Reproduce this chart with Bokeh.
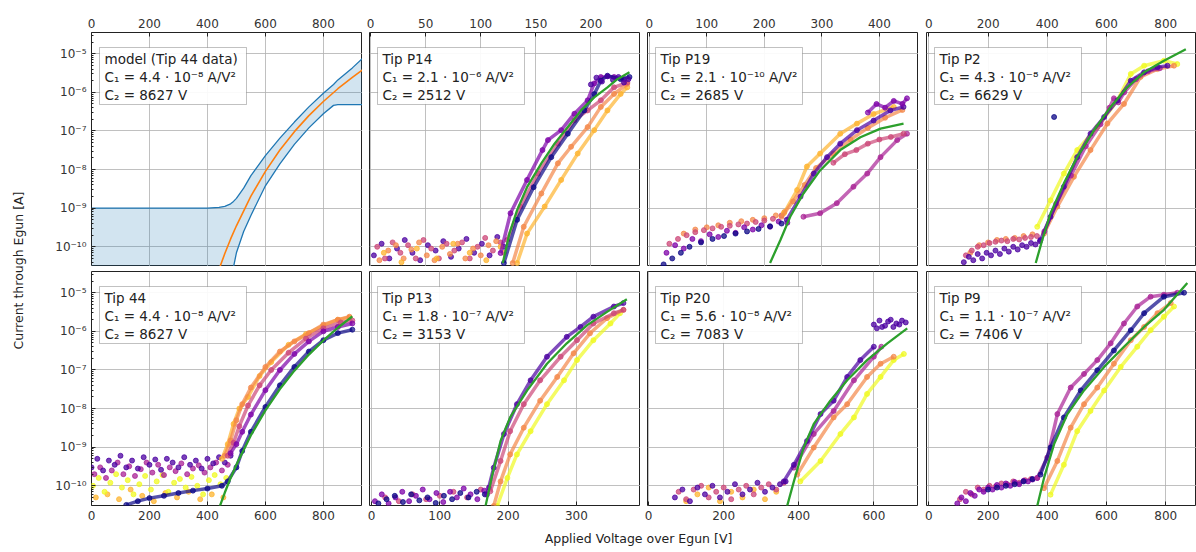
from bokeh.plotting import figure
from bokeh.layouts import row, column
from bokeh.models import (Range1d, FixedTicker, CustomJSTickFormatter, Label,
                          BoxAnnotation)
from bokeh.embed import file_html
from bokeh.resources import INLINE

# ------------------------------------------------------------------ data
# --- model panel (Tip 44 data) ---
model_v = [0, 100, 200, 300, 400, 440, 460, 480, 490, 500, 525, 550, 600, 650,
           700, 750, 800, 835, 850, 900, 935]
model_upper = [1e-9, 1e-9, 1e-9, 1e-9, 1.01e-9, 1.05e-9, 1.12e-9, 1.3e-9, 1.5e-9,
               1.8e-9, 3.3e-9, 7e-9, 2.3e-8, 6.5e-8, 1.7e-7, 4.2e-7, 9.5e-7,
               1.6e-6, 2.1e-6, 4.3e-6, 7.6e-6]
model_lower = [1e-12, 1e-12, 1e-12, 1e-12, 1e-12, 1e-12, 1e-12, 1e-12, 3e-11,
               7e-11, 2.5e-10, 6.5e-10, 3.8e-9, 1.4e-8, 4.5e-8, 1.2e-7, 2.8e-7,
               4.6e-7, 4.8e-7, 4.8e-7, 4.8e-7]
model_center_v = [420, 440, 460, 480, 500, 550, 600, 650, 700, 750, 800, 850, 900, 935]
model_center = [1e-11, 2.6e-11, 6.7e-11, 1.6e-10, 3.5e-10, 2.05e-9, 9.0e-9, 3.2e-8,
                9.6e-8, 2.5e-7, 5.8e-7, 1.24e-6, 2.45e-6, 3.8e-6]

# --- Tip P14 ---
p14_floor_a_v = [3, 10, 17, 24, 31, 38, 45, 52, 59, 66, 73, 80, 87, 94, 101, 108, 115, 121]
p14_floor_a_i = [6e-11, 1.2e-10, 5e-11, 9e-11, 1.5e-10, 7e-11, 4.5e-11, 1.1e-10, 8e-11,
                 1.4e-10, 5.5e-11, 9e-11, 1.6e-10, 7e-11, 1.2e-10, 6e-11, 1.8e-10, 1e-10]
p14_floor_b_v = [6, 13, 20, 27, 34, 41, 48, 55, 62, 69, 76, 83, 90, 97, 104, 111, 118]
p14_floor_b_i = [1e-10, 5e-11, 1.3e-10, 7e-11, 1.1e-10, 5e-11, 1.5e-10, 9e-11, 5e-11,
                 1.2e-10, 8e-11, 1.3e-10, 5e-11, 1e-10, 1.7e-10, 8e-11, 1.3e-10]
p14_floor_c_v = [8, 16, 23, 30, 37, 44, 51, 58, 65, 72, 79, 86, 93, 100, 107, 114, 121]
p14_floor_c_i = [4.5e-11, 8e-11, 1.1e-10, 5e-11, 8.5e-11, 1.3e-10, 6e-11, 4.5e-11, 1e-10,
                 6.5e-11, 1.2e-10, 5e-11, 9e-11, 6e-11, 1.1e-10, 1.4e-10, 7e-11]
p14_floor_d_v = [12, 28, 42, 60, 75, 90, 105, 118]
p14_floor_d_i = [7e-11, 4e-11, 9e-11, 5e-11, 1.2e-10, 7e-11, 4.5e-11, 1e-10]
p14_navy_v = [121, 133, 148, 164, 179, 194, 203, 209, 215, 227, 235]
p14_navy_i = [3.8e-11, 5e-10, 3.5e-9, 2.1e-8, 8.5e-8, 3.4e-7, 9e-7, 2e-6, 2.7e-6, 2.2e-6, 2.5e-6]
p14_purple_v = [118, 127, 142, 156, 161, 173, 185, 197, 203, 209, 221, 230]
p14_purple_i = [6.9e-11, 7.4e-10, 5.4e-9, 3.2e-8, 5.8e-8, 1.05e-7, 2.8e-7, 6.2e-7,
                1.7e-6, 2.5e-6, 2.5e-6, 2.2e-6]
p14_magenta_v = [124, 136, 152, 170, 185, 197, 209, 221, 233]
p14_magenta_i = [1.5e-10, 1.1e-9, 7.9e-9, 4.7e-8, 1.9e-7, 3.4e-7, 6.2e-7, 1.35e-6, 1.8e-6]
p14_orange_v = [129, 139, 155, 170, 182, 197, 209, 221, 233]
p14_orange_i = [3.8e-11, 3.3e-10, 2.4e-9, 1.45e-8, 3.9e-8, 1.26e-7, 4.2e-7, 9.1e-7, 1.66e-6]
p14_yellow_v = [133, 142, 158, 173, 188, 203, 215, 227, 233]
p14_yellow_i = [3.8e-11, 2.2e-10, 1.1e-9, 5.4e-9, 2.6e-8, 1.05e-7, 3.4e-7, 9.1e-7, 1.35e-6]
p14_top_v = [200, 205, 210, 215, 220, 225, 230, 234]
p14_top_i = [1.6e-6, 2.4e-6, 1.9e-6, 2.6e-6, 2.1e-6, 2.5e-6, 1.8e-6, 2.2e-6]
p14_fit_v = [120, 126, 133, 142, 155, 167, 179, 191, 203, 215, 224, 235]
p14_fit_i = [3.8e-11, 2.2e-10, 8.9e-10, 3.5e-9, 1.45e-8, 4.7e-8, 1.26e-7, 3.4e-7,
             7.4e-7, 1.35e-6, 2.2e-6, 3.3e-6]

# --- Tip P19 ---
p19_floor_a_v = [25, 40, 55, 70, 90, 110, 130, 150, 170, 190, 210, 230]
p19_floor_a_i = [3.5e-11, 5e-11, 7e-11, 1e-10, 1.3e-10, 1.6e-10, 1.9e-10, 2.2e-10,
                 2.5e-10, 2.9e-10, 3.4e-10, 4e-10]
p19_floor_b_v = [30, 45, 60, 75, 90, 105, 120, 135, 150, 165, 180, 195, 210, 225, 240]
p19_floor_b_i = [7e-11, 1.1e-10, 9e-11, 1.6e-10, 1.4e-10, 2.1e-10, 1.8e-10, 2.6e-10,
                 2.3e-10, 3.2e-10, 2.8e-10, 3.6e-10, 3.3e-10, 4.5e-10, 4.2e-10]
p19_floor_c_v = [35, 50, 65, 80, 95, 110, 125, 140, 155, 170, 185, 200, 215, 230]
p19_floor_c_i = [1.2e-10, 1.6e-10, 2e-10, 2.4e-10, 2.7e-10, 3e-10, 3.3e-10, 3.5e-10,
                 3.8e-10, 4e-10, 4.4e-10, 4.8e-10, 5.3e-10, 6.5e-10]
p19_floor_d_v = [60, 80, 100, 120, 140, 160, 180, 200, 220, 235]
p19_floor_d_i = [2.2e-10, 2.8e-10, 3.2e-10, 3.6e-10, 4.2e-10, 4.6e-10, 5e-10, 5.5e-10,
                 6.5e-10, 8e-10]
p19_navy_v = [239, 263, 286, 309, 332, 361, 390, 419, 442]
p19_navy_i = [5e-10, 2e-9, 7.9e-9, 2.1e-8, 4.7e-8, 1.05e-7, 1.86e-7, 3.4e-7, 4.2e-7]
p19_purple_v = [380, 395, 410, 425, 440, 448]
p19_purple_i = [3e-7, 5e-7, 4e-7, 6e-7, 5e-7, 7e-7]
p19_magenta_v = [268, 297, 326, 355, 379, 402, 431, 448]
p19_magenta_i = [6e-10, 7.4e-10, 1.35e-9, 3.6e-9, 7.9e-9, 2.1e-8, 5.8e-8, 8.5e-8]
p19_pink_v = [320, 340, 360, 380, 400, 420, 442]
p19_pink_i = [1.5e-8, 2.5e-8, 3.2e-8, 4.7e-8, 6e-8, 7e-8, 8.5e-8]
p19_orange_v = [230, 250, 270, 290, 320, 350, 380, 410, 440]
p19_orange_i = [6e-10, 1.5e-9, 4e-9, 1.1e-8, 2.6e-8, 6e-8, 1.2e-7, 2.2e-7, 3.5e-7]
p19_yellow_v = [234, 257, 274, 297, 332, 361, 390, 425]
p19_yellow_i = [7.4e-10, 2.95e-9, 1.2e-8, 2.6e-8, 8.5e-8, 1.55e-7, 2.75e-7, 4.2e-7]
p19_fit_v = [210, 228, 245, 268, 297, 332, 367, 402, 442]
p19_fit_i = [3.8e-11, 1.5e-10, 6e-10, 2.4e-9, 9.5e-9, 3.2e-8, 6.9e-8, 1.15e-7, 1.55e-7]

# --- Tip P2 ---
p2_floor_a_v = [118, 135, 150, 165, 180, 195, 210, 225, 240, 255, 270, 285, 300, 315,
                330, 345, 360, 375]
p2_floor_a_i = [4e-11, 5.5e-11, 4.5e-11, 6.5e-11, 5e-11, 7e-11, 6e-11, 8e-11, 6.5e-11,
                9e-11, 7.5e-11, 1e-10, 8.5e-11, 1.1e-10, 1e-10, 1.25e-10, 1.15e-10, 1.4e-10]
p2_floor_b_v = [125, 145, 165, 185, 205, 225, 245, 265, 285, 305, 325, 345, 365]
p2_floor_b_i = [6e-11, 8e-11, 1e-10, 1.1e-10, 1.25e-10, 1.35e-10, 1.45e-10, 1.4e-10,
                1.6e-10, 1.55e-10, 1.7e-10, 1.8e-10, 1.9e-10]
p2_floor_c_v = [140, 170, 200, 230, 260, 290, 320, 350]
p2_floor_c_i = [7e-11, 1.1e-10, 1.3e-10, 1.5e-10, 1.6e-10, 1.7e-10, 1.9e-10, 2.1e-10]
p2_navy_v = [377, 411, 456, 501, 546, 592, 637, 682, 727, 772, 806]
p2_navy_i = [1.5e-10, 6e-10, 3.6e-9, 2.1e-8, 8.5e-8, 2.3e-7, 6.2e-7, 2e-6, 3.3e-6, 4.5e-6, 4.9e-6]
p2_magenta_v = [390, 430, 480, 530, 580, 610, 625, 640, 660, 700, 740, 780]
p2_magenta_i = [2.5e-10, 1.3e-9, 7e-9, 4e-8, 1.5e-7, 4e-7, 7e-7, 5.5e-7, 1e-6, 2.2e-6,
                3.5e-6, 4.2e-6]
p2_orange_v = [389, 434, 490, 546, 603, 659, 715, 772, 828]
p2_orange_i = [2.2e-10, 1.1e-9, 6.5e-9, 3.2e-8, 1.55e-7, 5e-7, 2.5e-6, 4e-6, 4.9e-6]
p2_yellow_v = [366, 411, 456, 501, 569, 637, 682, 727, 794, 839]
p2_yellow_i = [3.3e-10, 1.6e-9, 7.9e-9, 3.2e-8, 1.26e-7, 6.2e-7, 3e-6, 4.9e-6, 6.6e-6, 5.4e-6]
p2_stray_v = [423]
p2_stray_i = [2.3e-7]
p2_fit_v = [361, 383, 411, 456, 501, 558, 614, 670, 727, 794, 868]
p2_fit_i = [3.8e-11, 1.5e-10, 7.4e-10, 4.4e-9, 2.1e-8, 1.05e-7, 4.2e-7, 1.35e-6,
            3.3e-6, 6.6e-6, 1.3e-5]

# --- Tip 44 ---
t44_floor_a_v = [0, 20, 40, 60, 80, 100, 120, 140, 160, 180, 200, 220, 240, 260, 280,
                 300, 320, 340, 360, 380, 400, 420, 440, 460, 480]
t44_floor_a_i = [3e-10, 5e-10, 2.5e-10, 4.5e-10, 3.5e-10, 6e-10, 3e-10, 4.5e-10, 2.8e-10,
                 5.5e-10, 3.5e-10, 4.8e-10, 2.6e-10, 5e-10, 4e-10, 3e-10, 5.5e-10,
                 3.5e-10, 4.5e-10, 2.8e-10, 5e-10, 3.8e-10, 5.5e-10, 4e-10, 6e-10]
t44_floor_b_v = [10, 30, 50, 70, 90, 110, 130, 150, 170, 190, 210, 230, 250, 270, 290,
                 310, 330, 350, 370, 390, 410, 430, 450, 470]
t44_floor_b_i = [2e-10, 3e-10, 1.6e-10, 2.5e-10, 4e-10, 2e-10, 3.2e-10, 1.8e-10, 2.7e-10,
                 4e-10, 2.2e-10, 3.5e-10, 1.9e-10, 3e-10, 2.4e-10, 3.8e-10, 2e-10,
                 2.8e-10, 3.4e-10, 2.2e-10, 3e-10, 4e-10, 2.5e-10, 3.5e-10]
t44_floor_c_v = [5, 25, 45, 65, 85, 105, 125, 145, 165, 185, 205, 225, 245, 265, 285,
                 305, 325, 345, 365, 385, 405, 425, 445, 465]
t44_floor_c_i = [1e-10, 1.6e-10, 7e-11, 1.2e-10, 2e-10, 9e-11, 1.4e-10, 6e-11, 1.1e-10,
                 1.8e-10, 8e-11, 1.3e-10, 1.9e-10, 7e-11, 1.2e-10, 1.5e-10, 9e-11,
                 1.7e-10, 1e-10, 6e-11, 1.4e-10, 1.9e-10, 1.1e-10, 1.6e-10]
t44_floor_d_v = [15, 55, 95, 135, 175, 215, 255, 295, 335, 375, 415, 455]
t44_floor_d_i = [5e-11, 6e-11, 4.5e-11, 8e-11, 5.5e-11, 4e-11, 6.5e-11, 5e-11, 7e-11,
                 4.5e-11, 6e-11, 5e-11]
t44_navy_v = [120, 160, 200, 250, 300, 350, 400, 450, 470, 500, 520, 550, 600, 650,
              700, 750, 800, 850, 900]
t44_navy_i = [3.2e-11, 4e-11, 4.8e-11, 5.5e-11, 6.5e-11, 7.5e-11, 8.5e-11, 1e-10,
              1.3e-10, 3e-10, 8e-10, 2.5e-9, 1.1e-8, 4e-8, 1.2e-7, 3e-7, 5.9e-7, 9e-7, 1.1e-6]
t44_purple_v = [480, 500, 520, 550, 600, 650, 700, 750, 800, 850, 900]
t44_purple_i = [7e-10, 1.2e-9, 2.5e-9, 7e-9, 3e-8, 1e-7, 2.6e-7, 5.5e-7, 1e-6, 1.3e-6, 1.6e-6]
t44_pink_v = [470, 490, 510, 540, 580, 620, 680, 740, 800, 860, 900]
t44_pink_i = [6e-10, 1.3e-9, 3.5e-9, 1.2e-8, 4e-8, 1e-7, 2.8e-7, 6.5e-7, 1.2e-6, 1.7e-6, 1.9e-6]
t44_orange_v = [460, 480, 500, 520, 550, 600, 650, 700, 750, 800, 850, 890]
t44_orange_i = [6e-10, 1.5e-9, 5e-9, 1.3e-8, 3.5e-8, 1.2e-7, 3e-7, 5.5e-7, 9e-7, 1.5e-6,
                2e-6, 2.4e-6]
t44_yellow_v = [450, 470, 490, 510, 540, 580, 620, 680, 740, 800, 850, 890]
t44_yellow_i = [5e-10, 1.2e-9, 4e-9, 1e-8, 2e-8, 7e-8, 1.6e-7, 4.5e-7, 8.5e-7, 1.4e-6,
                2e-6, 2.3e-6]
t44_fit_v = [440, 460, 480, 500, 550, 600, 650, 700, 750, 800, 850, 900]
t44_fit_i = [2.6e-11, 6.7e-11, 1.6e-10, 3.5e-10, 2.05e-9, 9.0e-9, 3.2e-8, 9.6e-8,
             2.5e-7, 5.8e-7, 1.24e-6, 2.45e-6]

# --- Tip P13 ---
p13_floor_a_v = [5, 15, 25, 35, 45, 55, 65, 75, 85, 95, 105, 115, 125, 135, 145, 155, 165, 172]
p13_floor_a_i = [4e-11, 6e-11, 3.5e-11, 5e-11, 7e-11, 4e-11, 5.5e-11, 8e-11, 4.5e-11,
                 6.5e-11, 3.8e-11, 7e-11, 5e-11, 8.5e-11, 6e-11, 4.5e-11, 7.5e-11, 9e-11]
p13_floor_b_v = [10, 22, 34, 46, 58, 70, 82, 94, 106, 118, 130, 142, 154, 166]
p13_floor_b_i = [3.5e-11, 4.5e-11, 5.5e-11, 3.8e-11, 6e-11, 4.2e-11, 5e-11, 3.6e-11,
                 5.5e-11, 4.5e-11, 6.5e-11, 5e-11, 7e-11, 6e-11]
p13_floor_c_v = [20, 40, 60, 80, 100, 120, 140, 160]
p13_floor_c_i = [5e-11, 4e-11, 6e-11, 4.5e-11, 5.5e-11, 7e-11, 5e-11, 8e-11]
p13_navy_v = [169, 179, 194, 213, 233, 257, 286, 306, 325, 355, 369]
p13_navy_i = [5.9e-11, 2.95e-10, 2.2e-9, 1.3e-8, 5.4e-8, 2.2e-7, 7.2e-7, 1.3e-6, 2.4e-6,
              4.4e-6, 5.4e-6]
p13_pink_v = [174, 189, 203, 223, 247, 277, 301, 325, 355, 369]
p13_pink_i = [7.2e-11, 4.4e-10, 2.6e-9, 1.3e-8, 5.4e-8, 2.2e-7, 5.9e-7, 1.6e-6, 2.95e-6, 3.6e-6]
p13_orange_v = [179, 189, 203, 223, 247, 272, 296, 320, 345, 369]
p13_orange_i = [3e-11, 1.3e-10, 6.5e-10, 3.2e-9, 1.6e-8, 6.6e-8, 2.7e-7, 8.9e-7, 2.2e-6, 3.6e-6]
p13_yellow_v = [184, 199, 213, 233, 257, 282, 301, 325, 350, 364]
p13_yellow_i = [3e-11, 1.6e-10, 6.5e-10, 2.6e-9, 1.3e-8, 5.4e-8, 1.8e-7, 5.9e-7, 1.6e-6, 2.95e-6]
p13_fit_v = [167, 177, 189, 203, 228, 257, 286, 316, 345, 374]
p13_fit_i = [3e-11, 1.95e-10, 1.45e-9, 5.9e-9, 2.95e-8, 1.45e-7, 4.9e-7, 1.45e-6, 3.2e-6, 6.8e-6]

# --- Tip P20 ---
p20_floor_a_v = [70, 90, 110, 130, 150, 170, 190, 210, 230, 250, 270, 290, 310, 330, 350, 365]
p20_floor_a_i = [5e-11, 8e-11, 4e-11, 9e-11, 6e-11, 1e-10, 5e-11, 7e-11, 1.1e-10, 6e-11,
                 8e-11, 1.2e-10, 7e-11, 9e-11, 1.1e-10, 1.3e-10]
p20_floor_b_v = [80, 100, 120, 140, 160, 180, 200, 220, 240, 260, 280, 300, 320, 340, 360]
p20_floor_b_i = [7e-11, 4.5e-11, 8e-11, 1e-10, 5e-11, 7e-11, 9e-11, 4.5e-11, 8e-11, 1e-10,
                 6e-11, 9e-11, 1.1e-10, 8e-11, 1.2e-10]
p20_floor_c_v = [100, 130, 160, 190, 220, 250, 280, 310, 340]
p20_floor_c_i = [4e-11, 6e-11, 9e-11, 4e-11, 7e-11, 5e-11, 8e-11, 4.5e-11, 7e-11]
p20_navy_v = [360, 387, 422, 458, 493, 529, 564, 600]
p20_navy_i = [1.3e-10, 3.5e-10, 1.45e-9, 7.2e-9, 1.6e-8, 6.6e-8, 1.8e-7, 4e-7]
p20_top_v = [600, 608, 615, 622, 630, 638, 645, 652, 660, 668, 675, 685]
p20_top_i = [1.5e-6, 1.2e-6, 1.9e-6, 1.3e-6, 1.4e-6, 1.8e-6, 2e-6, 1.3e-6, 1.6e-6,
             1.5e-6, 1.9e-6, 1.7e-6]
p20_magenta_v = [387, 440, 493, 547, 600, 620]
p20_magenta_i = [2.95e-10, 2.2e-9, 8.7e-9, 5.4e-8, 2.2e-7, 4e-7]
p20_orange_v = [396, 440, 493, 529, 582, 618, 653]
p20_orange_i = [1.95e-10, 9.8e-10, 5.9e-9, 1.3e-8, 6.6e-8, 1.45e-7, 2.2e-7]
p20_yellow_v = [404, 458, 511, 547, 582, 618, 653, 680]
p20_yellow_i = [1.3e-10, 4.4e-10, 2.2e-9, 5.9e-9, 2.4e-8, 6.6e-8, 1.8e-7, 2.6e-7]
p20_fit_v = [369, 387, 413, 440, 484, 529, 582, 636, 689]
p20_fit_i = [3e-11, 1.3e-10, 9.8e-10, 4e-9, 1.6e-8, 5.4e-8, 1.8e-7, 4.9e-7, 1.2e-6]

# --- Tip P9 ---
p9_floor_a_v = [96, 110, 125, 140, 155, 170, 185, 200, 215, 230, 245, 260, 275, 290,
                305, 320, 335, 350, 366]
p9_floor_a_i = [3.5e-11, 5e-11, 4e-11, 6.5e-11, 5.5e-11, 8e-11, 7e-11, 9e-11, 8e-11,
                1.05e-10, 9e-11, 1.15e-10, 1e-10, 1.25e-10, 1.1e-10, 1.35e-10, 1.3e-10,
                1.45e-10, 1.6e-10]
p9_floor_b_v = [105, 125, 145, 165, 185, 205, 225, 245, 265, 285, 305, 325, 345]
p9_floor_b_i = [4.5e-11, 7e-11, 6e-11, 9e-11, 8e-11, 1e-10, 9.5e-11, 1.15e-10, 1.1e-10,
                1.3e-10, 1.2e-10, 1.4e-10, 1.5e-10]
p9_floor_c_v = [200, 230, 260, 290, 320, 350]
p9_floor_c_i = [8e-11, 9e-11, 1e-10, 1.1e-10, 1.3e-10, 1.5e-10]
p9_magenta_v = [366, 400, 434, 479, 524, 569, 614, 659, 704, 749, 794, 839]
p9_magenta_i = [1.6e-10, 5.4e-10, 7.2e-9, 3.5e-8, 7.9e-8, 1.8e-7, 4.9e-7, 1.6e-6, 4.4e-6,
                7.9e-6, 8.9e-6, 1e-5]
p9_navy_v = [377, 411, 456, 513, 569, 625, 682, 727, 794, 862]
p9_navy_i = [1.95e-10, 9.8e-10, 5.9e-9, 2.95e-8, 9.8e-8, 3.2e-7, 1.07e-6, 2.95e-6, 7.9e-6, 1e-5]
p9_orange_v = [389, 434, 479, 524, 569, 625, 682, 727, 772, 817]
p9_orange_i = [8.7e-11, 4.4e-10, 3.2e-9, 1.3e-8, 3.5e-8, 1.45e-7, 5.9e-7, 1.3e-6, 2.95e-6, 5.4e-6]
p9_yellow_v = [411, 456, 501, 546, 592, 648, 704, 749, 794, 828]
p9_yellow_i = [5.9e-11, 3.5e-10, 2.6e-9, 8.7e-9, 2.95e-8, 1.2e-7, 4e-7, 1.07e-6, 2.4e-6, 4.4e-6]
p9_fit_v = [366, 389, 423, 468, 524, 592, 659, 727, 794, 873]
p9_fit_i = [3e-11, 1.6e-10, 1.2e-9, 7.2e-9, 2.95e-8, 1.2e-7, 4e-7, 1.3e-6, 3.6e-6, 1.8e-5]

# annotation texts (three lines per panel)
box_texts = {
    "model": ["model (Tip 44 data)", "C\u2081 = 4.4 \u00b7 10\u207b\u2078 A/V\u00b2", "C\u2082 = 8627 V"],
    "p14": ["Tip P14", "C\u2081 = 2.1 \u00b7 10\u207b\u2076 A/V\u00b2", "C\u2082 = 2512 V"],
    "p19": ["Tip P19", "C\u2081 = 2.1 \u00b7 10\u207b\u00b9\u2070 A/V\u00b2", "C\u2082 = 2685 V"],
    "p2": ["Tip P2", "C\u2081 = 4.3 \u00b7 10\u207b\u2078 A/V\u00b2", "C\u2082 = 6629 V"],
    "t44": ["Tip 44", "C\u2081 = 4.4 \u00b7 10\u207b\u2078 A/V\u00b2", "C\u2082 = 8627 V"],
    "p13": ["Tip P13", "C\u2081 = 1.8 \u00b7 10\u207b\u2077 A/V\u00b2", "C\u2082 = 3153 V"],
    "p20": ["Tip P20", "C\u2081 = 5.6 \u00b7 10\u207b\u2078 A/V\u00b2", "C\u2082 = 7083 V"],
    "p9": ["Tip P9", "C\u2081 = 1.1 \u00b7 10\u207b\u2077 A/V\u00b2", "C\u2082 = 7406 V"],
}

x_ticks_col1 = [0, 200, 400, 600, 800]
x_ticks_p14 = [0, 50, 100, 150, 200]
x_ticks_p13 = [0, 100, 200, 300]
x_ticks_p19 = [0, 100, 200, 300, 400]
x_ticks_p20 = [0, 200, 400, 600]
x_ticks_col4 = [0, 200, 400, 600, 800]
y_decades = [1e-10, 1e-9, 1e-8, 1e-7, 1e-6, 1e-5]

# ------------------------------------------------------------------ style
FONT = "DejaVu Sans"
NAVY = "#0d0887"
INDIGO = "#4c02a1"
PURPLE = "#7e03a8"
MAGENTA = "#a92395"
PINK = "#cc4778"
ORANGE = "#f48849"
AMBER = "#fdb42f"
YELLOW = "#f0f921"
FIT = "#2ca02c"
BLUE = "#1f77b4"
MORANGE = "#ff7f0e"

Y_LO, Y_HI = 10 ** -10.51, 10 ** -4.45
FRAME_H = 234
minor_y = [m * 10.0 ** e for e in range(-11, -4) for m in range(2, 10)]

sup_js = """
const e = Math.round(Math.log10(tick));
const m = {'-':'\u207b','0':'\u2070','1':'\u00b9','2':'\u00b2','3':'\u00b3','4':'\u2074',
           '5':'\u2075','6':'\u2076','7':'\u2077','8':'\u2078','9':'\u2079'};
return '10' + String(e).split('').map(c => m[c]).join('');
"""


def style_axis(ax, ticker, formatter=None):
    ax.ticker = ticker
    ax.major_tick_in = 4
    ax.major_tick_out = 0
    ax.minor_tick_in = 2
    ax.minor_tick_out = 0
    ax.major_tick_line_color = "#222222"
    ax.minor_tick_line_color = "#222222"
    ax.axis_line_color = None
    if formatter is not None:
        ax.formatter = formatter
    ax.major_label_text_font = FONT
    ax.major_label_text_font_size = "12px"
    ax.major_label_text_color = "#333333"
    ax.major_label_standoff = 5


def make_panel(col, rowi, xr, xticks, key):
    width = 332 if col == 0 else 278
    left = 61 if col == 0 else (7 if col < 3 else 8)
    height = 266 if rowi == 0 else 261
    top = 32 if rowi == 0 else 5
    bottom = 0 if rowi == 0 else 22
    p = figure(width=width, height=height, x_range=Range1d(*xr),
               y_range=Range1d(Y_LO, Y_HI), y_axis_type="log",
               x_axis_location="above" if rowi == 0 else "below",
               output_backend="svg", toolbar_location=None,
               min_border_left=left, min_border_right=0,
               min_border_top=top, min_border_bottom=bottom)
    p.outline_line_color = "#222222"
    p.outline_line_width = 1
    p.background_fill_color = "white"
    p.border_fill_color = "white"

    xt = FixedTicker(ticks=xticks)
    yt = FixedTicker(ticks=y_decades, minor_ticks=minor_y)
    style_axis(p.xaxis[0], xt)
    if col == 0:
        style_axis(p.yaxis[0], yt, CustomJSTickFormatter(code=sup_js))
    else:
        p.yaxis.visible = False

    p.xgrid.ticker = xt
    p.ygrid.ticker = yt
    p.xgrid.grid_line_color = "#b0b0b0"
    p.ygrid.grid_line_color = "#b0b0b0"
    p.xgrid.grid_line_alpha = 0.8
    p.ygrid.grid_line_alpha = 0.8

    box_top = FRAME_H - 15
    p.add_layout(BoxAnnotation(left=8, right=155, top=box_top, bottom=box_top - 57,
                               left_units="screen", right_units="screen",
                               top_units="screen", bottom_units="screen",
                               fill_color="white", fill_alpha=0.92,
                               line_color="#333333", line_width=1))
    for k, txt in enumerate(box_texts[key]):
        p.add_layout(Label(x=13, y=box_top - 3 - 18 * k, x_units="screen",
                           y_units="screen", text=txt, text_font=FONT,
                           text_font_size="13.5px", text_color="#222222",
                           text_baseline="top", text_align="left"))
    return p


def floor(p, v, i, color):
    p.scatter(v, i, size=5, color=color, alpha=0.75, marker="circle")


def curve(p, v, i, color):
    p.line(v, i, color=color, line_width=3.5, alpha=0.7)
    p.scatter(v, i, size=5, color=color, alpha=0.7, marker="circle")


def fit(p, v, i):
    p.line(v, i, color=FIT, line_width=2.3)


# ------------------------------------------------------------------ panels
pm = make_panel(0, 0, (0, 935), x_ticks_col1, "model")
pm.varea(x=model_v, y1=model_lower, y2=model_upper, color=BLUE, alpha=0.2)
pm.line(model_v, model_upper, color=BLUE, line_width=1.3)
pm.line(model_v, model_lower, color=BLUE, line_width=1.3)
pm.line(model_center_v, model_center, color=MORANGE, line_width=1.6)

pa = make_panel(1, 0, (-1, 245), x_ticks_p14, "p14")
floor(pa, p14_floor_a_v, p14_floor_a_i, INDIGO)
floor(pa, p14_floor_b_v, p14_floor_b_i, PINK)
floor(pa, p14_floor_c_v, p14_floor_c_i, ORANGE)
floor(pa, p14_floor_d_v, p14_floor_d_i, AMBER)
curve(pa, p14_yellow_v, p14_yellow_i, AMBER)
curve(pa, p14_orange_v, p14_orange_i, ORANGE)
curve(pa, p14_magenta_v, p14_magenta_i, PINK)
curve(pa, p14_purple_v, p14_purple_i, PURPLE)
curve(pa, p14_navy_v, p14_navy_i, NAVY)
floor(pa, p14_top_v, p14_top_i, INDIGO)
fit(pa, p14_fit_v, p14_fit_i)

pb = make_panel(2, 0, (-3, 468), x_ticks_p19, "p19")
floor(pb, p19_floor_d_v, p19_floor_d_i, ORANGE)
floor(pb, p19_floor_c_v, p19_floor_c_i, PINK)
floor(pb, p19_floor_b_v, p19_floor_b_i, PURPLE)
floor(pb, p19_floor_a_v, p19_floor_a_i, NAVY)
curve(pb, p19_yellow_v, p19_yellow_i, AMBER)
curve(pb, p19_orange_v, p19_orange_i, ORANGE)
curve(pb, p19_magenta_v, p19_magenta_i, MAGENTA)
curve(pb, p19_pink_v, p19_pink_i, PINK)
curve(pb, p19_navy_v, p19_navy_i, INDIGO)
curve(pb, p19_purple_v, p19_purple_i, PURPLE)
fit(pb, p19_fit_v, p19_fit_i)

pc = make_panel(3, 0, (-8, 904), x_ticks_col4, "p2")
floor(pc, p2_floor_c_v, p2_floor_c_i, ORANGE)
floor(pc, p2_floor_b_v, p2_floor_b_i, PINK)
floor(pc, p2_floor_a_v, p2_floor_a_i, INDIGO)
curve(pc, p2_yellow_v, p2_yellow_i, YELLOW)
curve(pc, p2_orange_v, p2_orange_i, ORANGE)
curve(pc, p2_magenta_v, p2_magenta_i, MAGENTA)
curve(pc, p2_navy_v, p2_navy_i, INDIGO)
floor(pc, p2_stray_v, p2_stray_i, NAVY)
fit(pc, p2_fit_v, p2_fit_i)

pd = make_panel(0, 1, (0, 935), x_ticks_col1, "t44")
floor(pd, t44_floor_d_v, t44_floor_d_i, AMBER)
floor(pd, t44_floor_c_v, t44_floor_c_i, YELLOW)
floor(pd, t44_floor_b_v, t44_floor_b_i, MAGENTA)
floor(pd, t44_floor_a_v, t44_floor_a_i, INDIGO)
curve(pd, t44_yellow_v, t44_yellow_i, AMBER)
curve(pd, t44_orange_v, t44_orange_i, ORANGE)
curve(pd, t44_pink_v, t44_pink_i, PINK)
curve(pd, t44_purple_v, t44_purple_i, PURPLE)
curve(pd, t44_navy_v, t44_navy_i, NAVY)
fit(pd, t44_fit_v, t44_fit_i)

pe = make_panel(1, 1, (-3, 394), x_ticks_p13, "p13")
floor(pe, p13_floor_c_v, p13_floor_c_i, PINK)
floor(pe, p13_floor_a_v, p13_floor_a_i, PURPLE)
floor(pe, p13_floor_b_v, p13_floor_b_i, NAVY)
curve(pe, p13_yellow_v, p13_yellow_i, YELLOW)
curve(pe, p13_orange_v, p13_orange_i, ORANGE)
curve(pe, p13_pink_v, p13_pink_i, PINK)
curve(pe, p13_navy_v, p13_navy_i, INDIGO)
fit(pe, p13_fit_v, p13_fit_i)

pf = make_panel(2, 1, (-3, 719), x_ticks_p20, "p20")
floor(pf, p20_floor_c_v, p20_floor_c_i, AMBER)
floor(pf, p20_floor_b_v, p20_floor_b_i, PINK)
floor(pf, p20_floor_a_v, p20_floor_a_i, INDIGO)
curve(pf, p20_yellow_v, p20_yellow_i, YELLOW)
curve(pf, p20_orange_v, p20_orange_i, ORANGE)
curve(pf, p20_magenta_v, p20_magenta_i, MAGENTA)
curve(pf, p20_navy_v, p20_navy_i, INDIGO)
floor(pf, p20_top_v, p20_top_i, INDIGO)
fit(pf, p20_fit_v, p20_fit_i)

pg = make_panel(3, 1, (-8, 904), x_ticks_col4, "p9")
floor(pg, p9_floor_b_v, p9_floor_b_i, PINK)
floor(pg, p9_floor_a_v, p9_floor_a_i, PURPLE)
floor(pg, p9_floor_c_v, p9_floor_c_i, NAVY)
curve(pg, p9_yellow_v, p9_yellow_i, YELLOW)
curve(pg, p9_orange_v, p9_orange_i, ORANGE)
curve(pg, p9_magenta_v, p9_magenta_i, MAGENTA)
curve(pg, p9_navy_v, p9_navy_i, NAVY)
fit(pg, p9_fit_v, p9_fit_i)


def strip(w, h):
    s = figure(width=w, height=h, x_range=Range1d(0, w), y_range=Range1d(0, h),
               output_backend="svg", toolbar_location=None,
               min_border_left=0, min_border_right=0, min_border_top=0,
               min_border_bottom=0)
    s.axis.visible = False
    s.grid.visible = False
    s.outline_line_color = None
    return s


ylab = strip(30, 552)
ylab.add_layout(Label(x=18, y=282, text="Current through Egun [A]", angle=1.5707963,
                      text_align="center", text_baseline="middle", text_font=FONT,
                      text_font_size="12.5px", text_color="#222222"))
xlab = strip(1166, 25)
xlab.add_layout(Label(x=608, y=14, text="Applied Voltage over Egun [V]",
                      text_align="center", text_baseline="middle", text_font=FONT,
                      text_font_size="12.5px", text_color="#222222"))

layout = row(ylab, column(row(pm, pa, pb, pc), row(pd, pe, pf, pg), xlab))

open("out.html", "w").write(file_html(layout, INLINE))
